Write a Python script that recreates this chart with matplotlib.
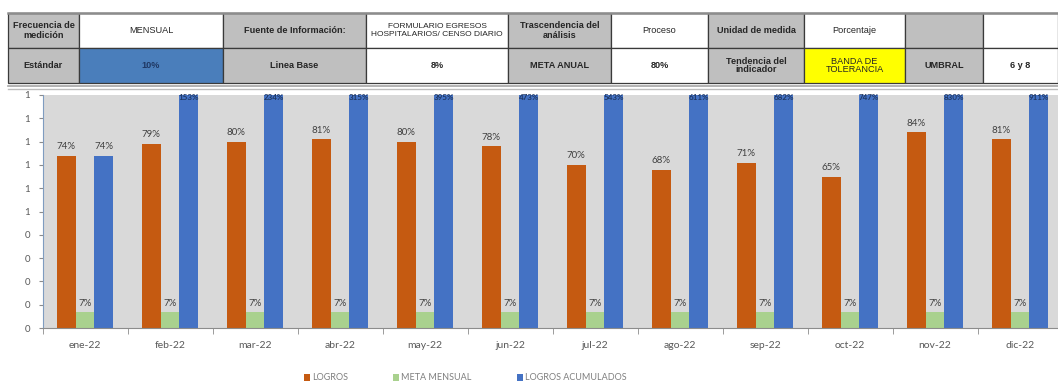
import numpy as np
import matplotlib
matplotlib.use("Agg")
import matplotlib.pyplot as plt
from matplotlib.patches import Rectangle

# monthly indicator data
meses = ["ene-22", "feb-22", "mar-22", "abr-22", "may-22", "jun-22",
         "jul-22", "ago-22", "sep-22", "oct-22", "nov-22", "dic-22"]
logros = [74, 79, 80, 81, 80, 78, 70, 68, 71, 65, 84, 81]
meta_mensual = [6.67] * 12
logros_acum = [74, 153, 234, 315, 395, 473, 543, 611, 682, 747, 830, 911]

# header sheet
fila1 = ["Frecuencia de\nmedición", "MENSUAL", "Fuente de Información:",
         "FORMULARIO EGRESOS\nHOSPITALARIOS/ CENSO DIARIO",
         "Trascendencia del\nanálisis", "Proceso", "Unidad de medida",
         "Porcentaje", "", ""]
fila2 = ["Estándar", "10%", "Linea Base", "8%", "META ANUAL", "80%",
         "Tendencia del\nindicador", "BANDA DE\nTOLERANCIA", "UMBRAL", "6 y 8"]

GRIS = "#bfbfbf"
BLANCO = "#ffffff"
colores1 = [GRIS, BLANCO, GRIS, BLANCO, GRIS, BLANCO, GRIS, BLANCO, GRIS, BLANCO]
colores2 = [GRIS, "#4a7ebb", GRIS, BLANCO, GRIS, BLANCO, GRIS, "#ffff00", GRIS, BLANCO]
negrita1 = [True, False, True, False, True, False, True, False, False, False]
negrita2 = [True, True, True, True, True, True, True, False, True, True]

W, H = 1058, 386
fig = plt.figure(figsize=(W / 100, H / 100), dpi=100)

# table drawn in pixel coordinates
tab = fig.add_axes([0, 0, 1, 1])
tab.set_xlim(0, W)
tab.set_ylim(H, 0)
tab.axis("off")
cols = [8, 79, 223, 366, 508, 611, 708, 804, 905, 983, 1058]
filas = [(13, 48, fila1, colores1, negrita1), (48, 83, fila2, colores2, negrita2)]
for y0, y1, textos, colores, negritas in filas:
    for i in range(10):
        x0, x1 = cols[i], cols[i + 1]
        tab.add_patch(Rectangle((x0, y0), x1 - x0, y1 - y0, facecolor=colores[i],
                                edgecolor="#3a3a3a", lw=0.9))
        size = 6.0 if len(textos[i]) > 30 else 6.6
        color = "#1f3864" if colores[i] == "#4a7ebb" else "#262626"
        tab.text((x0 + x1) / 2, (y0 + y1) / 2, textos[i], ha="center", va="center",
                 fontsize=size, family="Liberation Sans", color=color,
                 fontweight="bold" if negritas[i] else "normal", linespacing=1.0)
tab.plot([8, W], [13, 13], color="#8c8c8c", lw=1.8)
tab.plot([8, W], [86, 86], color="#a6a6a6", lw=1.2)
tab.plot([8, W], [89, 89], color="#bdbdbd", lw=1.0)

# bar chart
ax = fig.add_axes([42.5 / W, (H - 328) / H, 1020 / W, 233 / H])
ax.set_facecolor("#d9d9d9")
x = np.arange(len(meses))
bw = 0.22
v_log = np.array(logros) / 100
v_meta = np.array(meta_mensual) / 100
v_acum = np.array(logros_acum) / 100
ax.bar(x - bw, v_log, bw, color="#c55a11", label="LOGROS")
ax.bar(x, v_meta, bw, color="#a9d18e", label="META MENSUAL")
ax.bar(x + bw, v_acum, bw, color="#4472c4", label="LOGROS ACUMULADOS")

ax.set_ylim(0, 1)
ax.set_xlim(-0.5, len(meses) - 0.5)

lab = dict(ha="center", va="bottom", fontsize=7, family="Lato", color="#404040")
for i in range(len(meses)):
    ax.text(x[i] - bw, v_log[i] + 0.02, f"{logros[i]}%", **lab)
    ax.text(x[i], v_meta[i] + 0.02, f"{round(meta_mensual[i])}%", **lab)
    if v_acum[i] <= 1:
        ax.text(x[i] + bw, v_acum[i] + 0.02, f"{logros_acum[i]}%", **lab)
    else:
        ax.text(x[i] + bw, 0.988, f"{logros_acum[i]}%", ha="center", va="center",
                fontsize=5.8, family="Lato", color="#1f3864", fontweight="bold",
                clip_on=False)

ticks = np.round(np.arange(0, 1.01, 0.1), 1)
ax.set_yticks(ticks)
ax.set_yticklabels([str(int(np.floor(t + 0.5 + 1e-9))) for t in ticks])
ax.set_xticks(x)
ax.set_xticklabels(meses)
ax.set_xticks(np.arange(-0.5, len(meses), 1), minor=True)
ax.tick_params(axis="x", which="major", length=0, pad=9, labelsize=7.5,
               labelcolor="#595959")
ax.tick_params(axis="x", which="minor", length=4, color="#8c8c8c")
ax.tick_params(axis="y", length=3, color="#8c8c8c", labelsize=7,
               labelcolor="#595959", pad=6)
for t in ax.get_xticklabels() + ax.get_yticklabels():
    t.set_family("Lato")
ax.spines["top"].set_visible(False)
ax.spines["right"].set_visible(False)
ax.spines["left"].set_color("#7f9cc0")
ax.spines["bottom"].set_color("#8c8c8c")

fig.legend(loc="center", bbox_to_anchor=(465 / W, 1 - 378 / H), ncol=3,
           frameon=False, handlelength=0.7, handleheight=0.7,
           handletextpad=0.2, columnspacing=5.0, labelcolor="#7f7f7f",
           prop={"family": "Lato", "size": 6.5})

fig.savefig("out.png", dpi=100)
